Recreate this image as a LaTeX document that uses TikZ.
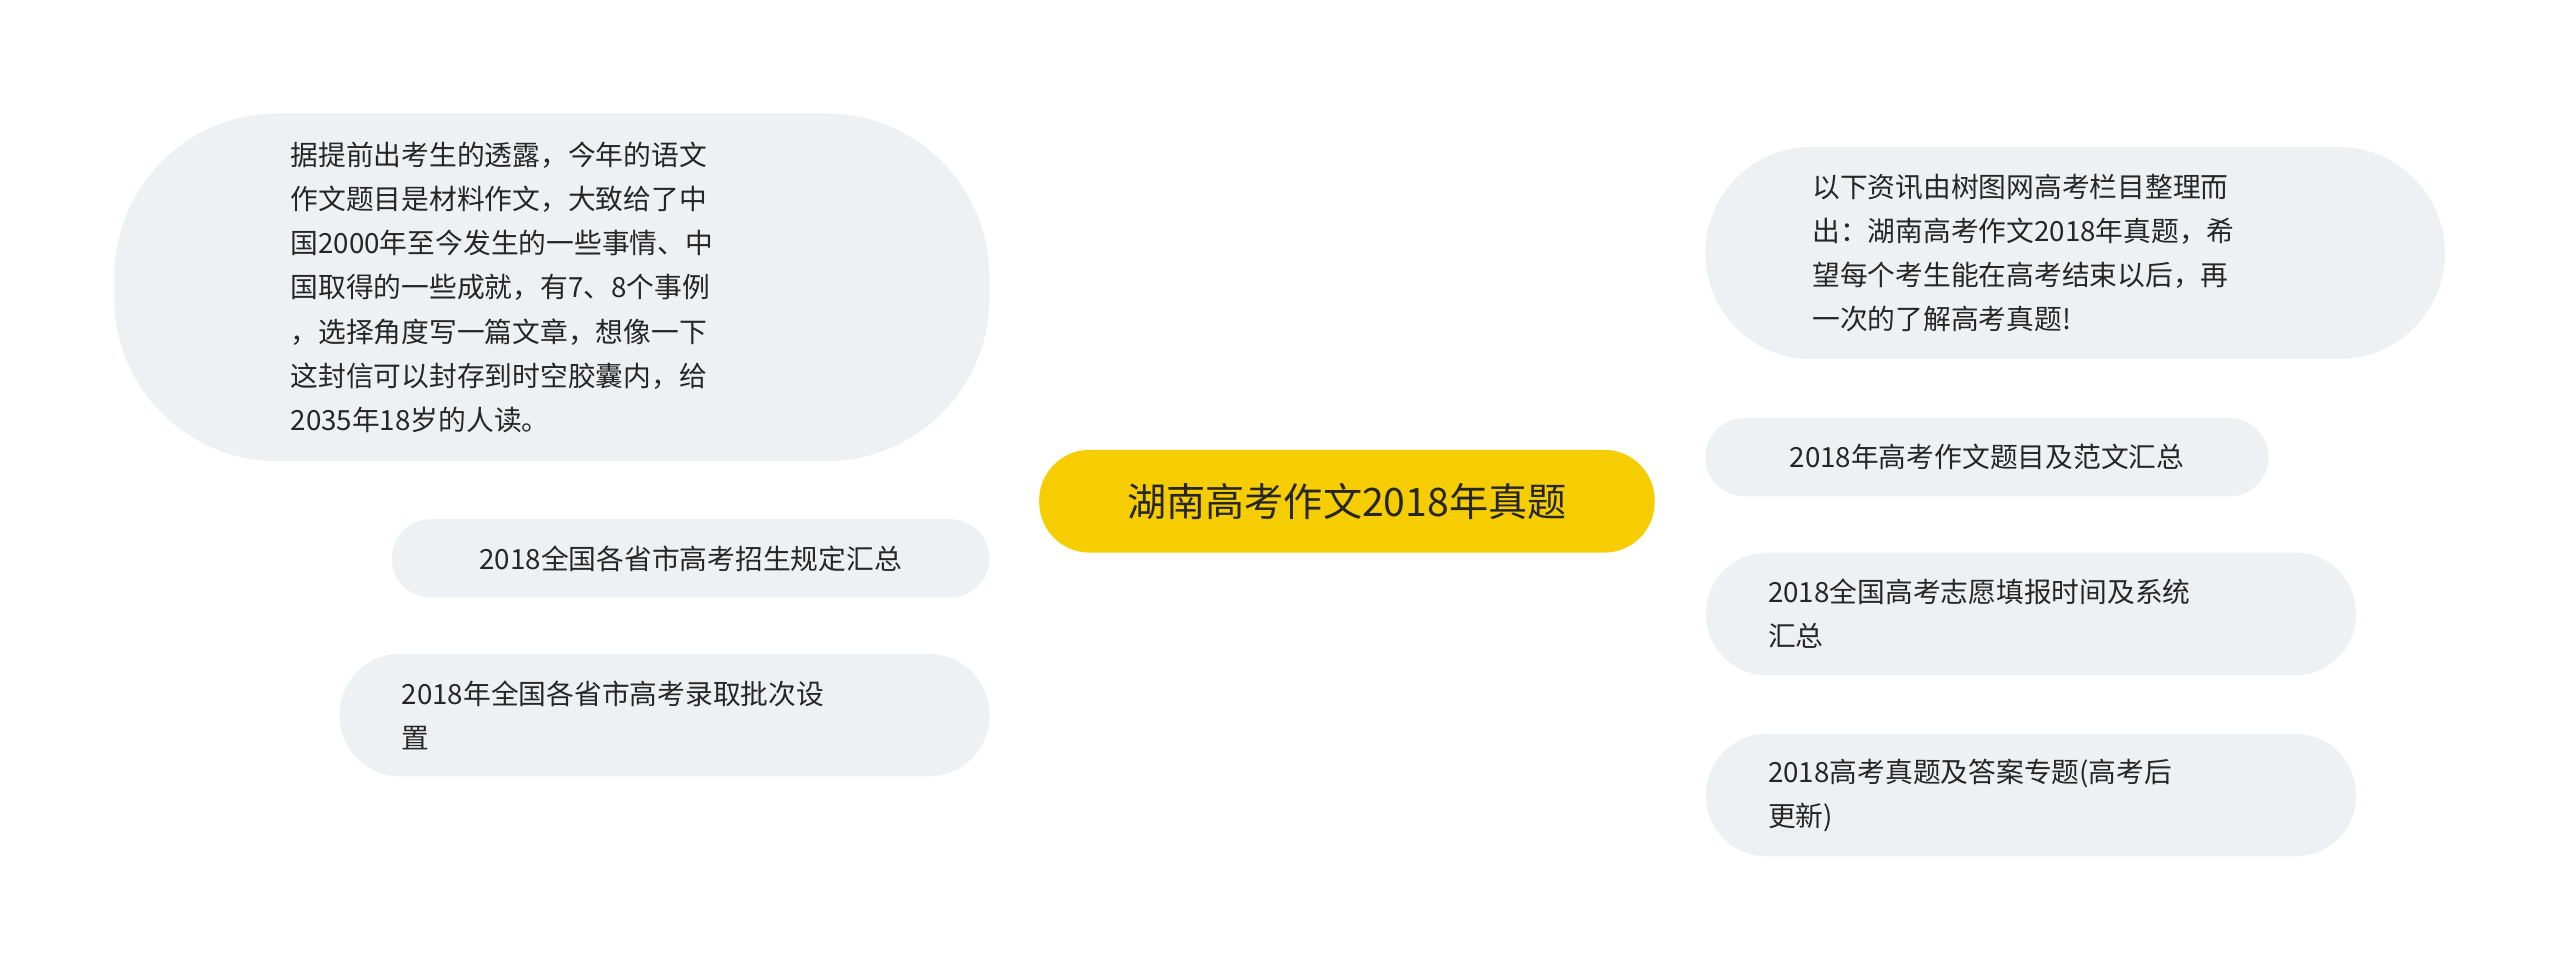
\documentclass[tikz,border=0pt]{standalone}
\usepackage{fontspec}
\setmainfont{Noto Sans CJK SC}
\usetikzlibrary{backgrounds}
\definecolor{yel}{HTML}{F5CD00}
\definecolor{nodegray}{HTML}{EEF1F4}
\begin{document}
\begin{tikzpicture}[x=1pt,y=-1pt,
  leaf/.style={fill=nodegray,draw=none,align=left,inner sep=0pt,text=black!85,font=\fontsize{17}{27}\selectfont},
  link/.style={draw=yel,line width=2pt}]
\useasboundingbox[fill=white] (0,0) rectangle (1568,595);
\node[fill=yel,rounded corners=31pt,minimum width=377pt,minimum height=63pt,inner sep=0pt,font=\fontsize{24}{28}\selectfont,text=black!85] (c) at (825,307) {湖南高考作文2018年真题};
\node[leaf,rounded corners=100pt,minimum width=536pt,minimum height=213pt,text width=320pt] (lt) at (338,176) {据提前出考生的透露，今年的语文\\作文题目是材料作文，大致给了中\\国2000年至今发生的一些事情、中\\国取得的一些成就，有7、8个事例\\，选择角度写一篇文章，想像一下\\这封信可以封存到时空胶囊内，给\\2035年18岁的人读。};
\node[leaf,rounded corners=24pt,minimum width=366pt,minimum height=48pt] (l2) at (423,342) {2018全国各省市高考招生规定汇总};
\node[leaf,rounded corners=37pt,minimum width=398pt,minimum height=75pt,text width=322pt] (l3) at (407,438) {2018年全国各省市高考录取批次设\\置};
\node[leaf,rounded corners=65pt,minimum width=453pt,minimum height=130pt,text width=322pt] (r1) at (1271,155) {以下资讯由树图网高考栏目整理而\\出：湖南高考作文2018年真题，希\\望每个考生能在高考结束以后，再\\一次的了解高考真题!};
\node[leaf,rounded corners=24pt,minimum width=345pt,minimum height=48pt] (r2) at (1217,280) {2018年高考作文题目及范文汇总};
\node[leaf,rounded corners=37pt,minimum width=398pt,minimum height=75pt,text width=322pt] (r3) at (1244,376) {2018全国高考志愿填报时间及系统\\汇总};
\node[leaf,rounded corners=37pt,minimum width=398pt,minimum height=75pt,text width=322pt] (r4) at (1244,487) {2018高考真题及答案专题(高考后\\更新)};
\begin{scope}[on background layer]
\draw[link] (lt.east) .. controls (760,176) and (822,210) .. (822,300);
\draw[link] (l2.east) .. controls (720,342) and (800,330) .. (822,300);
\draw[link] (l3.east) .. controls (780,438) and (822,410) .. (822,310);
\draw[link] (r1.west) .. controls (880,155) and (828,200) .. (828,300);
\draw[link] (r2.west) .. controls (960,280) and (900,285) .. (828,300);
\draw[link] (r3.west) .. controls (900,376) and (850,350) .. (828,310);
\draw[link] (r4.west) .. controls (860,487) and (828,430) .. (828,310);
\end{scope}
\end{tikzpicture}
\end{document}
